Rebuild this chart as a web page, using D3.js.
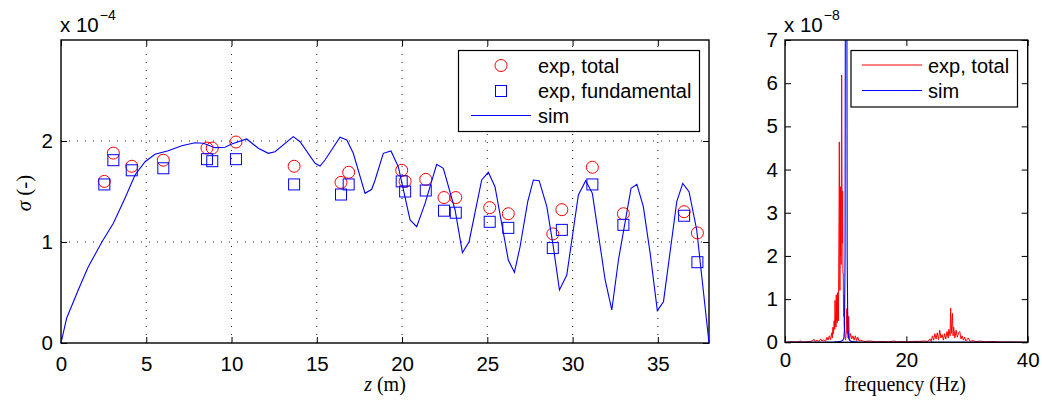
<!DOCTYPE html>
<html>
<head>
<meta charset="utf-8">
<script src="https://cdn.jsdelivr.net/npm/d3@7"></script>
<style>
  body { margin: 0; background: #fff; }
  svg text { font-family: "Liberation Sans", Arial, sans-serif; fill: #000; }
  .serif { font-family: "Liberation Serif", "Times New Roman", serif !important; }
</style>
</head>
<body>
<svg id="chart" width="1042" height="401"></svg>
<script>
// ---- left panel: sigma along z (units of 1e-4)
const expZ = [2.54, 3.07, 4.15, 6.00, 8.56, 8.87, 10.26, 13.67, 16.42, 16.87, 19.98, 20.18,
              21.39, 22.46, 23.15, 25.14, 26.23, 28.84, 29.37, 31.16, 32.98, 36.54, 37.32];
const expTotal = [1.60, 1.88, 1.75, 1.81, 1.93, 1.93, 1.99, 1.75, 1.59, 1.69, 1.71, 1.60,
                  1.62, 1.44, 1.44, 1.34, 1.28, 1.08, 1.32, 1.74, 1.28, 1.30, 1.09];
const expFund = [1.57, 1.81, 1.71, 1.73, 1.82, 1.80, 1.82, 1.57, 1.47, 1.57, 1.60, 1.50,
                 1.51, 1.31, 1.29, 1.20, 1.14, 0.94, 1.12, 1.57, 1.17, 1.26, 0.80];
const simZ = [0, 0.33, 1.01, 1.60, 2.39, 3.07, 3.75, 4.34, 4.93, 5.51, 6.29, 7.08, 7.86, 8.35,
              9.03, 9.62, 10.01, 10.89, 11.57, 12.16, 12.55, 13.62, 14.02, 14.90, 15.19, 15.48,
              16.36, 16.76, 17.14, 17.83, 18.22, 18.42, 18.90, 19.35, 19.78, 20.47, 20.86, 21.35,
              22.03, 22.42, 23.11, 23.54, 23.93, 24.67, 25.06, 25.45, 26.23, 26.59, 26.92, 27.37,
              27.70, 28.04, 28.49, 28.87, 29.23, 29.66, 30.34, 30.77, 31.16, 31.91, 32.30, 32.69,
              33.43, 33.77, 34.15, 34.55, 34.97, 35.33, 36.11, 36.46, 36.83, 37.28, 38.0];
const simSigma = [0, 0.245, 0.525, 0.755, 0.997, 1.185, 1.433, 1.663, 1.795, 1.868, 1.904, 1.953,
                  1.983, 1.977, 1.934, 1.938, 1.970, 2.020, 1.928, 1.878, 1.894, 2.043, 1.993, 1.779,
                  1.752, 1.812, 2.037, 2.010, 1.878, 1.482, 1.522, 1.614, 1.878, 1.901, 1.746, 1.218,
                  1.152, 1.383, 1.769, 1.730, 1.317, 0.894, 1.003, 1.614, 1.690, 1.548, 0.822, 0.700,
                  0.953, 1.399, 1.614, 1.607, 1.350, 0.953, 0.525, 0.673, 1.465, 1.607, 1.482, 0.624,
                  0.327, 0.822, 1.532, 1.571, 1.350, 0.888, 0.320, 0.409, 1.399, 1.581, 1.498, 1.119, 0];
const zTicks = [0, 5, 10, 15, 20, 25, 30, 35];
const sigmaTicks = [0, 1, 2];

// ---- right panel: spectrum (units of 1e-8)
const freqExp = [0, 1, 2, 2.6, 2.8, 3.5, 4.3, 4.8, 5.0, 5.3, 5.6, 5.9, 6.1, 6.4, 6.7, 6.9, 7.1, 7.3,
                 7.5, 7.7, 7.8, 7.9, 8.0, 8.1, 8.2, 8.25, 8.3, 8.35, 8.4, 8.45, 8.5, 8.55, 8.6, 8.65,
                 8.7, 8.75, 8.8, 8.85, 8.9, 8.95, 9.0, 9.05, 9.1, 9.15, 9.2, 9.25, 9.3, 9.34, 9.4,
                 9.45, 9.5, 9.55, 9.6, 9.65, 9.7, 9.75, 9.8, 9.9, 10.0, 10.1, 10.2, 10.25, 10.3,
                 10.4, 10.5, 10.6, 10.8, 11.0, 11.2, 11.4, 11.6, 11.8, 12.0, 12.2, 12.5, 13, 14, 15,
                 16, 17, 18, 18.5, 19, 20, 21, 22, 23, 23.5, 23.9, 24.1, 24.3, 24.5, 24.7, 24.9,
                 25.1, 25.3, 25.5, 25.7, 25.9, 26.1, 26.3, 26.5, 26.7, 26.9, 27.0, 27.2, 27.3, 27.4,
                 27.5, 27.6, 27.7, 27.8, 28.0, 28.2, 28.4, 28.6, 28.8, 29.0, 29.2, 29.4, 29.6, 29.8,
                 30.2, 30.5, 31, 31.5, 32, 33, 34, 35, 36, 37, 38, 40];
const ampExp = [0, 0.01, 0.005, 0.03, 0.005, 0.01, 0.02, 0.07, 0.02, 0.05, 0.02, 0.08, 0.03, 0.06,
                0.02, 0.12, 0.05, 0.15, 0.06, 0.22, 0.1, 0.35, 0.2, 0.5, 0.3, 0.97, 0.4, 0.6, 0.35,
                1.1, 0.5, 0.9, 0.45, 1.15, 0.6, 1.05, 0.5, 1.6, 2.8, 4.64, 3.4, 1.2, 3.6, 2.0, 3.6,
                1.8, 4.5, 6.19, 3.5, 2.3, 3.5, 1.6, 1.6, 0.6, 1.1, 0.4, 0.3, 0.1, 0.05, 0.3, 0.78,
                0.2, 0.78, 0.1, 0.6, 0.05, 0.2, 0.08, 0.15, 0.05, 0.15, 0.04, 0.12, 0.03, 0.05,
                0.02, 0.03, 0.01, 0.02, 0.01, 0.03, 0.01, 0.02, 0.01, 0.02, 0.02, 0.03, 0.02, 0.08,
                0.02, 0.15, 0.05, 0.2, 0.08, 0.22, 0.06, 0.28, 0.1, 0.18, 0.05, 0.2, 0.08, 0.25,
                0.1, 0.3, 0.15, 0.79, 0.2, 0.45, 0.67, 0.15, 0.35, 0.1, 0.28, 0.12, 0.22, 0.25,
                0.08, 0.15, 0.05, 0.12, 0.03, 0.1, 0.02, 0.04, 0.01, 0.03, 0.01, 0.02, 0.01, 0.005,
                0.01, 0.005, 0];
const freqSim = [0, 5, 8, 9, 9.5, 9.7, 9.8, 9.9, 9.95, 10.05, 10.2, 10.25, 10.35, 10.5, 10.7, 11, 12, 20, 40];
const ampSim = [0, 0.002, 0.005, 0.015, 0.04, 0.1, 0.3, 2, 8, 40, 8, 2, 0.3, 0.1, 0.04, 0.015, 0.005, 0.001, 0];
const freqTicks = [0, 20, 40];
const ampTicks = [0, 1, 2, 3, 4, 5, 6, 7];

const svg = d3.select("#chart");
const tickFont = "20.5px";
const legendFont = "20px";
const fmt = d3.format("d");

// MATLAB-style boxed axes with inward ticks on all four sides
function drawBox(x, y, xt, yt, padX, padY) {
    const g = svg.append("g");
    g.append("g")
        .attr("transform", `translate(0,${y.range()[0]})`)
        .call(d3.axisBottom(x).tickValues(xt).tickSize(-6).tickPadding(padY).tickFormat(fmt))
        .call(a => a.select(".domain").remove())
        .selectAll("text").style("font-size", tickFont);
    g.append("g")
        .attr("transform", `translate(0,${y.range()[1]})`)
        .call(d3.axisTop(x).tickValues(xt).tickSize(-6).tickFormat(""))
        .call(a => a.select(".domain").remove());
    g.append("g")
        .attr("transform", `translate(${x.range()[0]},0)`)
        .call(d3.axisLeft(y).tickValues(yt).tickSize(-6).tickPadding(padX).tickFormat(fmt))
        .call(a => a.select(".domain").remove())
        .selectAll("text").style("font-size", tickFont);
    g.append("g")
        .attr("transform", `translate(${x.range()[1]},0)`)
        .call(d3.axisRight(y).tickValues(yt).tickSize(-6).tickFormat(""))
        .call(a => a.select(".domain").remove());
    g.selectAll(".tick line").attr("stroke", "#000").attr("stroke-width", 1);
    g.append("rect")
        .attr("x", x.range()[0]).attr("y", y.range()[1])
        .attr("width", x.range()[1] - x.range()[0])
        .attr("height", y.range()[0] - y.range()[1])
        .attr("fill", "none").attr("stroke", "#000").attr("stroke-width", 1.4);
    return g;
}

function exponent(xPos, base, exp) {
    const t = svg.append("text").attr("x", xPos).attr("y", 31.5).style("font-size", "20.5px");
    t.append("tspan").text(base);
    t.append("tspan").attr("dy", -12).attr("dx", 1).style("font-size", "14px").text(exp);
}

// ================= left panel =================
const x1 = d3.scaleLinear().domain([0, 38]).range([61, 709]);
const y1 = d3.scaleLinear().domain([0, 3]).range([343, 40]);

// dotted grid
const grid1 = svg.append("g").attr("stroke", "#222").attr("stroke-width", 1).attr("stroke-dasharray", "1,7");
grid1.selectAll(".gx").data(zTicks.filter(d => d > 0)).join("line")
    .attr("x1", d => x1(d)).attr("x2", d => x1(d))
    .attr("y1", y1(0)).attr("y2", y1.range()[1]);
grid1.selectAll(".gy").data(sigmaTicks.filter(d => d > 0)).join("line")
    .attr("x1", x1(0)).attr("x2", x1.range()[1])
    .attr("y1", d => y1(d)).attr("y2", d => y1(d));

drawBox(x1, y1, zTicks, sigmaTicks, 8, 13);

// exp, total (circles)
svg.append("g").selectAll("circle")
    .data(expZ.map((z, i) => ({ z, v: expTotal[i] })))
    .join("circle")
    .attr("cx", d => x1(d.z)).attr("cy", d => y1(d.v)).attr("r", 6)
    .attr("fill", "none").attr("stroke", "#ff0000").attr("stroke-width", 1);

// exp, fundamental (squares)
svg.append("g").selectAll("rect")
    .data(expZ.map((z, i) => ({ z, v: expFund[i] })))
    .join("rect")
    .attr("x", d => x1(d.z) - 5.5).attr("y", d => y1(d.v) - 5.5)
    .attr("width", 11).attr("height", 11)
    .attr("fill", "none").attr("stroke", "#0000ff").attr("stroke-width", 1);

// sim
svg.append("path")
    .datum(simZ.map((z, i) => [z, simSigma[i]]))
    .attr("fill", "none").attr("stroke", "#0000ff").attr("stroke-width", 1.1)
    .attr("d", d3.line().x(d => x1(d[0])).y(d => y1(d[1])));

// legend
const leg1 = svg.append("g");
leg1.append("rect").attr("x", 458.5).attr("y", 50.5).attr("width", 241).attr("height", 81)
    .attr("fill", "#fff").attr("stroke", "#000").attr("stroke-width", 1.2);
leg1.append("circle").attr("cx", 501).attr("cy", 65.5).attr("r", 6)
    .attr("fill", "none").attr("stroke", "#ff0000");
leg1.append("rect").attr("x", 495.5).attr("y", 85.5).attr("width", 11).attr("height", 11)
    .attr("fill", "none").attr("stroke", "#0000ff");
leg1.append("line").attr("x1", 471).attr("x2", 531).attr("y1", 115.5).attr("y2", 115.5)
    .attr("stroke", "#0000ff");
["exp, total", "exp, fundamental", "sim"].forEach((s, i) => {
    leg1.append("text").attr("x", 538).attr("y", 72.5 + i * 25).style("font-size", legendFont).text(s);
});

exponent(60, "x 10", "\u22124");

svg.append("text").attr("class", "serif")
    .attr("transform", "translate(31,193) rotate(-90)")
    .attr("text-anchor", "middle").style("font-size", "21px")
    .html('<tspan font-style="italic">σ</tspan> (-)');
svg.append("text").attr("class", "serif")
    .attr("x", 385).attr("y", 391)
    .attr("text-anchor", "middle").style("font-size", "20px")
    .html('<tspan font-style="italic">z</tspan>  (m)');

// ================= right panel =================
const x2 = d3.scaleLinear().domain([0, 40]).range([785, 1027.7]);
const y2 = d3.scaleLinear().domain([0, 7]).range([342.3, 40]);

svg.append("clipPath").attr("id", "clip2").append("rect")
    .attr("x", 785).attr("y", 40).attr("width", 242.7).attr("height", 302.3);

const plot2 = svg.append("g").attr("clip-path", "url(#clip2)");
const line2 = d3.line().x(d => x2(d[0])).y(d => y2(d[1]));
plot2.append("path")
    .datum(freqExp.map((f, i) => [f, ampExp[i]]))
    .attr("fill", "none").attr("stroke", "#ff0000").attr("stroke-width", 1)
    .attr("d", line2);
plot2.append("path")
    .datum(freqSim.map((f, i) => [f, ampSim[i]]))
    .attr("fill", "none").attr("stroke", "#0000ff").attr("stroke-width", 1.1)
    .attr("d", line2);

drawBox(x2, y2, freqTicks, ampTicks, 7, 10);

const leg2 = svg.append("g");
leg2.append("rect").attr("x", 851).attr("y", 50.5).attr("width", 166.5).attr("height", 56.5)
    .attr("fill", "#fff").attr("stroke", "#000").attr("stroke-width", 1.2);
leg2.append("line").attr("x1", 862).attr("x2", 922).attr("y1", 65).attr("y2", 65).attr("stroke", "#ff0000");
leg2.append("line").attr("x1", 862).attr("x2", 922).attr("y1", 90.5).attr("y2", 90.5).attr("stroke", "#0000ff");
leg2.append("text").attr("x", 928).attr("y", 72.5).style("font-size", legendFont).text("exp, total");
leg2.append("text").attr("x", 928).attr("y", 98).style("font-size", legendFont).text("sim");

exponent(784, "x 10", "\u22128");

svg.append("text").attr("class", "serif")
    .attr("x", 905).attr("y", 391)
    .attr("text-anchor", "middle").style("font-size", "20px")
    .text("frequency (Hz)");
</script>
</body>
</html>
